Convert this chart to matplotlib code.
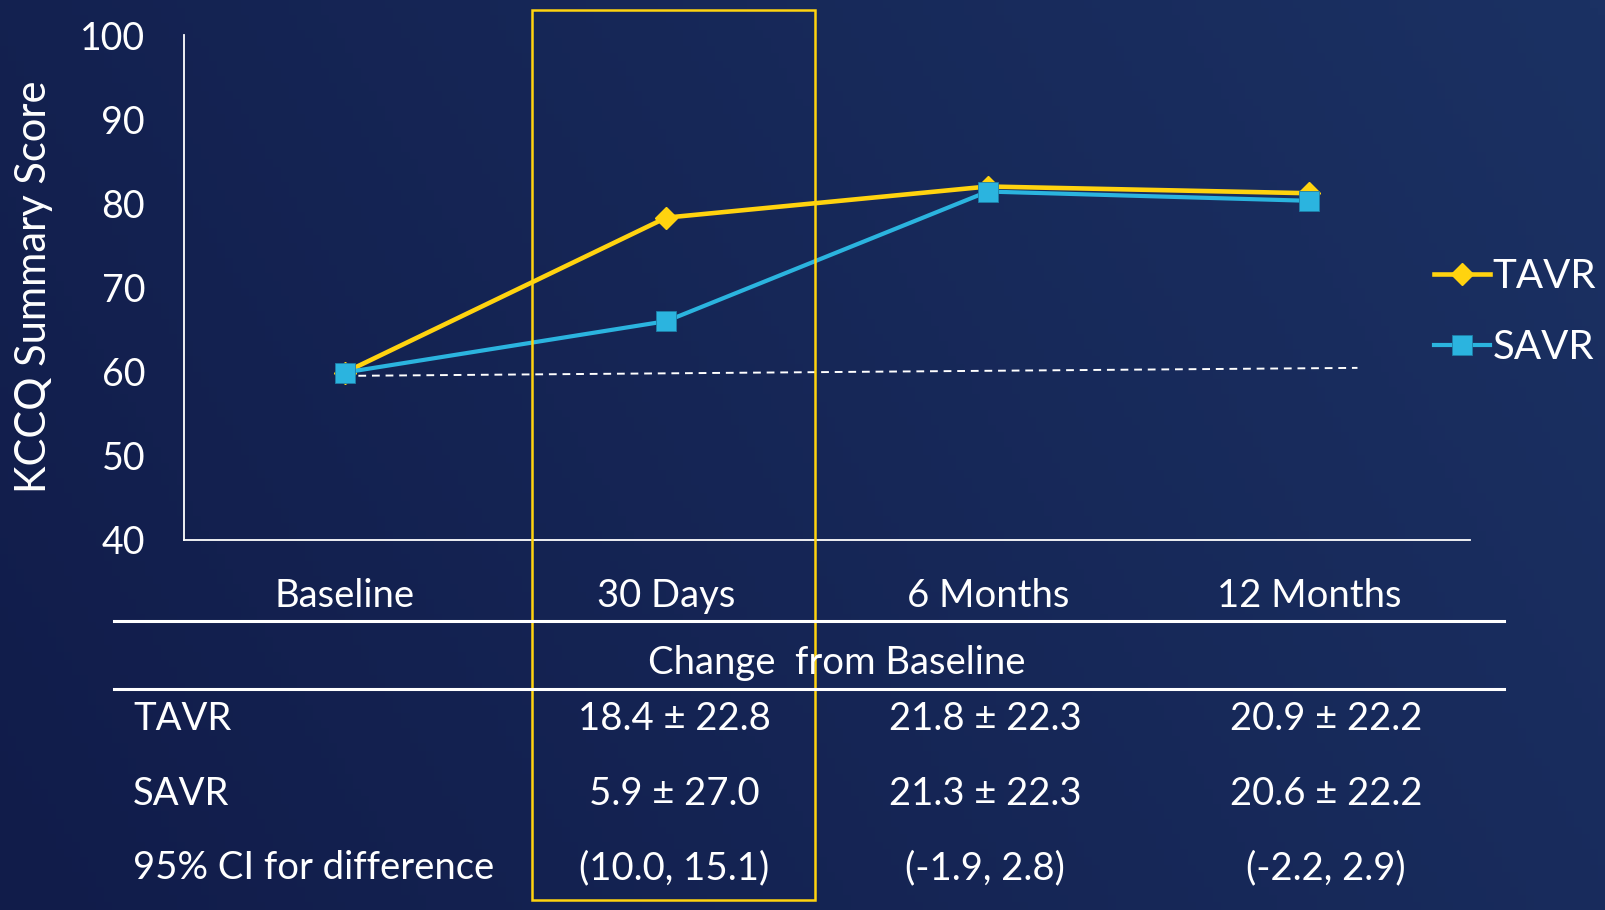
import numpy as np
import matplotlib
matplotlib.use("Agg")
import matplotlib.pyplot as plt
from matplotlib.colors import LinearSegmentedColormap
from matplotlib.patches import Rectangle
from matplotlib.transforms import blended_transform_factory

plt.rcParams["font.family"] = ["Lato", "DejaVu Sans"]

categories = ["Baseline", "30 Days", "6 Months", "12 Months"]
tavr_score = [59.9, 78.3, 82.0, 81.2]
savr_score = [59.9, 66.0, 81.4, 80.3]
# dashed reference line (category index, score)
ref_x = [0.0, 3.15]
ref_y = [59.5, 60.45]

row_labels = ["TAVR", "SAVR", "95% CI for difference"]
tavr_change = ["18.4 \u00b1 22.8", "21.8 \u00b1 22.3", "20.9 \u00b1 22.2"]
savr_change = ["5.9 \u00b1 27.0", "21.3 \u00b1 22.3", "20.6 \u00b1 22.2"]
ci_diff = ["(10.0, 15.1)", "(-1.9, 2.8)", "(-2.2, 2.9)"]

YELLOW = "#FFD30F"
CYAN = "#2BB4DF"
W, H = 1606, 910
TXT = 27.5

fig = plt.figure(figsize=(W / 100, H / 100), dpi=100)

# gradient background
bg = fig.add_axes([0, 0, 1, 1])
bg.set_axis_off()
cmap = LinearSegmentedColormap.from_list("bg", ["#111C4A", "#1B3163"])
gx, gy = np.meshgrid(np.linspace(0, 1, 200), np.linspace(0, 1, 120))
bg.imshow(0.75 * gx + 0.25 * gy, cmap=cmap, aspect="auto", extent=[0, 1, 0, 1])
bg.set_xlim(0, 1)
bg.set_ylim(1, 0)


def fx(px):
    return px / W


def fy(py):
    return 1 - py / H


ax = fig.add_axes([fx(184), fy(540), fx(1470) - fx(184), fy(35) - fy(540)])
ax.patch.set_alpha(0)
x = np.arange(len(categories))
ax.plot(ref_x, ref_y, color="white", lw=1.4, ls=(0, (4, 3)), zorder=2)
ax.plot(x, tavr_score, color=YELLOW, lw=3.3, marker="D", ms=11.5, zorder=3,
        label="TAVR", clip_on=False)
ax.plot(x, savr_score, color=CYAN, lw=3.0, marker="s", ms=14, zorder=4,
        mec="#1E7FA8", mew=0.6, label="SAVR", clip_on=False)
ax.set_xlim(-0.5, 3.5)
ax.set_ylim(40, 100)
ax.set_yticks(range(40, 101, 10))
ax.tick_params(axis="y", length=0, pad=28, labelsize=27, labelcolor="white")
ax.set_xticks([])
for s in ["top", "right"]:
    ax.spines[s].set_visible(False)
for s in ["left", "bottom"]:
    ax.spines[s].set_color("white")
    ax.spines[s].set_linewidth(1.3)

fig.text(fx(34), fy(287), "KCCQ Summary Score", rotation=90, color="white",
         fontsize=30, ha="center", va="center")

# legend on the right
fig.legend(handles=ax.get_lines()[1:], loc="center left",
           bbox_to_anchor=(fx(1434), fy(312)),
           frameon=False, fontsize=29, labelcolor="white", handlelength=1.4,
           handletextpad=0.05, labelspacing=0.85, borderaxespad=0, borderpad=0)

# category labels under axis
tr = blended_transform_factory(ax.transData, fig.transFigure)
for i, c in enumerate(categories):
    ax.text(i, fy(596), c, transform=tr, color="white", fontsize=TXT,
            ha="center", va="center")

# table rules
for py in [621, 689]:
    fig.add_artist(plt.Line2D([fx(114), fx(1504)], [fy(py), fy(py)], color="white", lw=2.2))

fig.text(fx(837), fy(663), "Change  from Baseline", color="white", fontsize=TXT,
         ha="center", va="center")

col_x = [674, 985, 1326]
row_y = [719, 794, 868]
rows = [tavr_change, savr_change, ci_diff]
for ry, lab, vals in zip(row_y, row_labels, rows):
    fig.text(fx(133), fy(ry), lab, color="white", fontsize=TXT, ha="left", va="center")
    for cx, v in zip(col_x, vals):
        fig.text(fx(cx), fy(ry), v, color="white", fontsize=TXT, ha="center", va="center")

# highlight box around 30 Days column
fig.add_artist(Rectangle((fx(532), fy(900)), fx(815) - fx(532), fy(10) - fy(900),
                         transform=fig.transFigure, fill=False, ec=YELLOW, lw=1.8))

fig.savefig("out.png", dpi=100)
